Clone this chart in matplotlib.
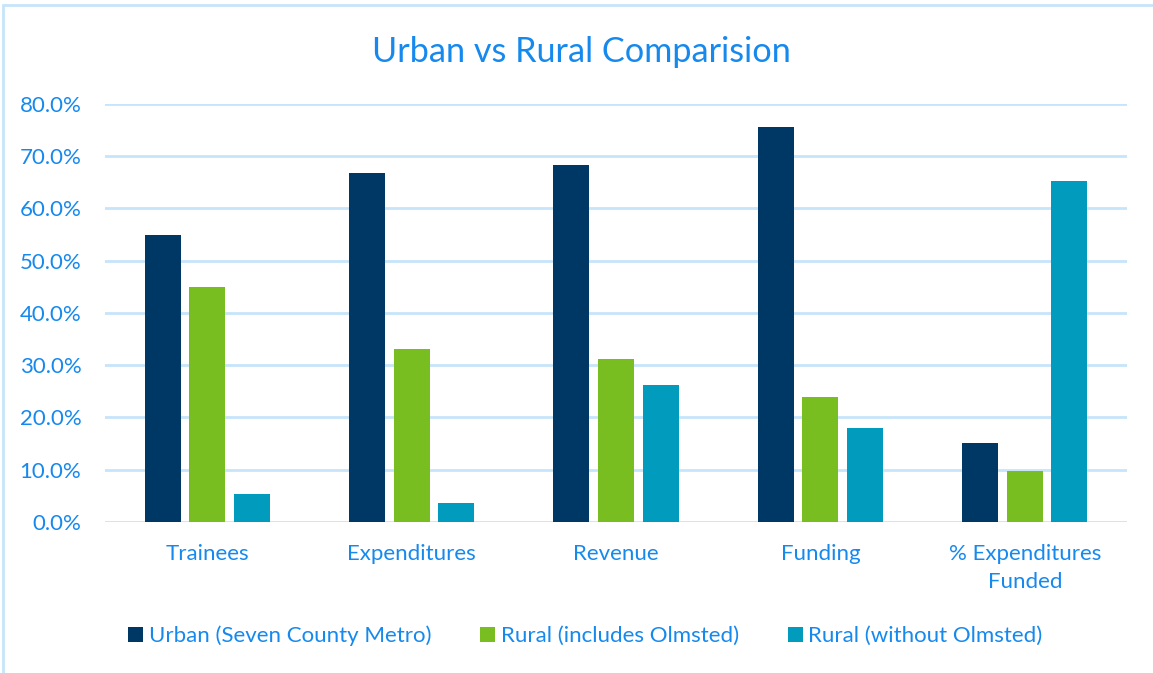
import numpy as np
import matplotlib.pyplot as plt
from matplotlib.patches import Rectangle

categories = ['Trainees', 'Expenditures', 'Revenue', 'Funding', '% Expenditures\nFunded']
urban = [55.0, 66.8, 68.3, 75.6, 15.2]
rural_incl = [45.0, 33.2, 31.2, 24.0, 9.8]
rural_excl = [5.4, 3.7, 26.3, 17.9, 65.3]
series_names = ['Urban (Seven County Metro)', 'Rural (includes Olmsted)', 'Rural (without Olmsted)']
colors = ['#003865', '#78BE21', '#009BBD']

text_color = '#1589EE'
grid_color = '#C6E4FA'
plt.rcParams['font.family'] = ['Lato', 'DejaVu Sans']

fig = plt.figure(figsize=(11.53, 6.73), dpi=100)
ax = fig.add_axes([0.0911, 0.2244, 0.8863, 0.6211])

x = np.arange(len(categories))
width = 0.176
offset = 0.218
for i, (vals, name, c) in enumerate(zip([urban, rural_incl, rural_excl], series_names, colors)):
    ax.bar(x + (i - 1) * offset, np.array(vals) / 100, width, color=c, label=name, zorder=3)

ax.set_xlim(-0.5, 4.5)
ax.set_ylim(0, 0.8)
ax.set_yticks(np.arange(0, 0.81, 0.1))
ax.set_yticklabels([f'{v:.1f}%' for v in np.arange(0, 81, 10)])
ax.set_xticks(x)
ax.set_xticklabels(categories, linespacing=1.5)
ax.tick_params(axis='both', length=0, labelsize=16, colors=text_color)
ax.tick_params(axis='x', pad=16)
ax.tick_params(axis='y', pad=17)
ax.grid(axis='y', color=grid_color, linewidth=2, zorder=0)
for s in ax.spines.values():
    s.set_visible(False)

fig.text(0.504, 0.923, 'Urban vs Rural Comparision', ha='center', va='center',
         fontsize=24.7, color=text_color)

ax.legend(loc='center', bbox_to_anchor=(0.470, -0.272), ncol=3, frameon=False,
          fontsize=16, labelcolor=text_color, handlelength=0.68, handleheight=0.68,
          handletextpad=0.25, columnspacing=2.2)

fig.patches.append(Rectangle((3 / 1153, -0.01), 1.0, 1 - 5 / 673 + 0.01,
                             transform=fig.transFigure, fill=False,
                             edgecolor=grid_color, linewidth=2))

fig.savefig('out.png', dpi=100)
